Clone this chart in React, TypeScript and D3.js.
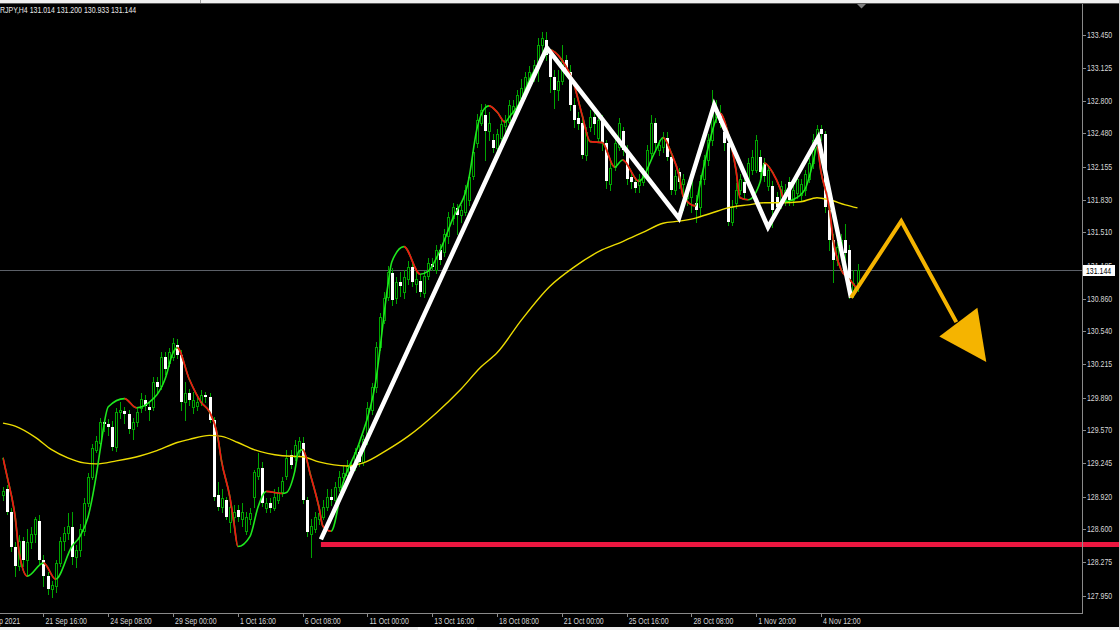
import React from 'react';
import * as d3 from 'd3';

// EURJPY H4 candles, one per 4-hour bar
const opens = [
  128.94, 128.99, 128.77, 128.43, 128.24, 128.48, 128.30, 128.47, 128.55, 128.68,
  128.30, 128.14, 128.01, 128.04, 128.27, 128.48, 128.56, 128.62, 128.33, 128.40,
  128.58, 128.86, 129.11, 129.38, 129.45, 129.65, 129.63, 129.60, 129.41, 129.75,
  129.76, 129.73, 129.58, 129.65, 129.79, 129.87, 129.80, 129.80, 130.04, 130.00,
  130.29, 130.23, 130.29, 130.41, 130.31, 129.85, 129.94, 129.80, 129.81, 129.85,
  129.92, 129.90, 129.67, 128.94, 128.82, 128.89, 128.67, 128.72, 128.79, 128.70,
  128.58, 128.70, 128.92, 129.12, 129.20, 128.81, 128.86, 128.81, 128.89, 128.96,
  129.12, 129.33, 129.31, 129.36, 129.45, 128.89, 128.55, 128.60, 128.70, 128.72,
  128.82, 128.92, 128.89, 129.01, 129.11, 129.13, 129.22, 129.21, 129.36, 129.26,
  129.48, 129.77, 129.99, 130.39, 130.65, 130.88, 131.11, 130.87, 131.02, 130.93,
  131.05, 131.17, 131.00, 131.03, 130.92, 131.08, 131.20, 131.14, 131.34, 131.32,
  131.47, 131.65, 131.75, 131.68, 131.71, 131.83, 132.06, 132.39, 132.58, 132.66,
  132.50, 132.42, 132.34, 132.44, 132.55, 132.59, 132.69, 132.73, 132.83, 132.91,
  133.01, 133.04, 133.12, 133.35, 133.40, 133.25, 133.03, 132.91, 132.99, 133.20,
  133.08, 132.76, 132.63, 132.58, 132.27, 132.54, 132.64, 132.44, 132.61, 132.39,
  131.98, 132.15, 132.35, 132.50, 132.32, 132.05, 132.00, 131.97, 132.00, 132.06,
  132.29, 132.58, 132.32, 132.35, 132.44, 132.25, 131.93, 132.10, 131.98, 131.85,
  131.86, 131.80, 131.76, 132.03, 132.22, 132.42, 132.64, 132.68, 132.49, 132.39,
  131.61, 131.80, 131.93, 132.00, 132.03, 132.12, 132.12, 132.25, 132.19, 131.96,
  131.96, 131.86, 131.80, 131.83, 132.00, 131.83, 131.90, 131.88, 131.93, 132.03,
  132.19, 132.39, 132.52, 132.47, 131.73, 131.44, 131.24, 131.31, 131.44, 131.34,
  130.92, 131.014,
];
const highs = [
  129.01, 129.03, 128.81, 128.47, 128.54, 128.52, 128.60, 128.62, 128.72, 128.74,
  128.35, 128.18, 128.09, 128.30, 128.52, 128.62, 128.76, 128.77, 128.45, 128.65,
  128.91, 129.15, 129.44, 129.51, 129.69, 129.67, 129.68, 129.66, 129.79, 129.85,
  129.80, 129.77, 129.69, 129.79, 129.94, 129.92, 129.85, 130.09, 130.09, 130.34,
  130.34, 130.38, 130.47, 130.46, 130.36, 130.04, 129.97, 129.95, 129.91, 129.96,
  129.95, 129.94, 129.70, 129.06, 128.99, 128.92, 128.92, 128.84, 128.84, 128.86,
  128.77, 128.81, 129.18, 129.35, 129.26, 128.91, 128.91, 128.99, 129.01, 129.11,
  129.38, 129.38, 129.47, 129.50, 129.50, 128.92, 128.70, 128.77, 128.82, 128.89,
  128.99, 128.99, 129.06, 129.17, 129.22, 129.28, 129.26, 129.40, 129.43, 129.52,
  129.85, 130.03, 130.44, 130.72, 130.93, 131.18, 131.16, 131.07, 131.12, 131.14,
  131.23, 131.22, 131.12, 131.09, 131.13, 131.26, 131.26, 131.39, 131.40, 131.54,
  131.71, 131.80, 131.79, 131.78, 131.97, 132.09, 132.34, 132.67, 132.77, 132.77,
  132.69, 132.47, 132.52, 132.61, 132.66, 132.81, 132.81, 132.91, 133.01, 133.08,
  133.14, 133.20, 133.42, 133.47, 133.47, 133.30, 133.10, 133.10, 133.35, 133.25,
  133.15, 132.83, 132.69, 132.63, 132.54, 132.71, 132.71, 132.67, 132.66, 132.42,
  132.22, 132.44, 132.63, 132.54, 132.37, 132.10, 132.05, 132.08, 132.14, 132.37,
  132.66, 132.63, 132.42, 132.49, 132.49, 132.30, 132.12, 132.14, 132.08, 131.98,
  132.06, 131.88, 132.07, 132.27, 132.47, 132.91, 132.81, 132.76, 132.57, 132.44,
  131.83, 131.99, 132.08, 132.06, 132.24, 132.32, 132.46, 132.32, 132.24, 132.17,
  132.01, 131.91, 132.01, 131.98, 132.05, 131.98, 132.08, 132.03, 132.12, 132.24,
  132.47, 132.56, 132.56, 132.50, 131.78, 131.49, 131.42, 131.49, 131.59, 131.39,
  131.14, 131.200,
];
const lows = [
  128.89, 128.75, 128.39, 128.14, 128.20, 128.24, 128.14, 128.42, 128.47, 128.27,
  128.04, 127.96, 127.94, 127.98, 128.24, 128.40, 128.50, 128.26, 128.23, 128.34,
  128.54, 128.83, 129.09, 129.36, 129.41, 129.56, 129.52, 129.38, 129.37, 129.69,
  129.64, 129.54, 129.48, 129.61, 129.75, 129.77, 129.67, 129.77, 129.95, 129.97,
  130.12, 130.20, 130.26, 130.28, 129.77, 129.67, 129.82, 129.74, 129.77, 129.82,
  129.85, 129.65, 128.89, 128.79, 128.77, 128.70, 128.57, 128.68, 128.68, 128.63,
  128.55, 128.65, 128.82, 129.09, 128.83, 128.77, 128.77, 128.79, 128.86, 128.93,
  129.09, 129.20, 129.28, 129.33, 128.86, 128.53, 128.33, 128.57, 128.65, 128.70,
  128.79, 128.84, 128.86, 128.97, 129.06, 129.09, 129.15, 129.18, 129.22, 129.23,
  129.44, 129.73, 129.95, 130.36, 130.62, 130.85, 130.80, 130.82, 130.89, 130.87,
  131.00, 130.98, 130.93, 130.89, 130.88, 131.05, 131.14, 131.11, 131.20, 131.28,
  131.41, 131.59, 131.49, 131.61, 131.68, 131.78, 132.03, 132.35, 132.56, 132.22,
  132.42, 132.30, 132.30, 132.37, 132.47, 132.56, 132.66, 132.69, 132.78, 132.86,
  132.95, 132.99, 132.99, 133.28, 133.20, 132.89, 132.73, 132.81, 132.96, 133.06,
  132.71, 132.54, 132.52, 132.24, 132.22, 132.50, 132.47, 132.40, 132.32, 131.95,
  131.93, 132.12, 132.32, 132.27, 131.98, 131.95, 131.91, 131.91, 131.97, 132.03,
  132.24, 132.32, 132.27, 132.30, 132.22, 131.89, 131.89, 131.95, 131.73, 131.78,
  131.71, 131.61, 131.68, 131.98, 132.17, 132.37, 132.59, 132.54, 132.32, 131.58,
  131.58, 131.75, 131.89, 131.85, 131.98, 132.08, 132.10, 132.05, 132.01, 131.93,
  131.56, 131.71, 131.75, 131.78, 131.78, 131.78, 131.85, 131.83, 131.88, 132.00,
  132.14, 132.37, 132.42, 131.71, 131.34, 131.02, 131.19, 131.26, 131.09, 130.87,
  130.88, 130.933,
];
const closes = [
  128.97, 128.77, 128.43, 128.24, 128.48, 128.30, 128.47, 128.55, 128.70, 128.30,
  128.14, 128.01, 128.05, 128.27, 128.48, 128.56, 128.63, 128.33, 128.40, 128.60,
  128.86, 129.11, 129.40, 129.46, 129.65, 129.63, 129.60, 129.41, 129.75, 129.77,
  129.73, 129.58, 129.65, 129.75, 129.88, 129.81, 129.77, 130.04, 129.99, 130.29,
  130.17, 130.34, 130.43, 130.31, 129.85, 129.94, 129.87, 129.87, 129.85, 129.92,
  129.90, 129.67, 128.92, 128.82, 128.91, 128.72, 128.82, 128.77, 128.72, 128.77,
  128.72, 128.76, 129.16, 129.20, 128.86, 128.86, 128.81, 128.92, 128.96, 129.07,
  129.30, 129.23, 129.43, 129.46, 128.89, 128.57, 128.63, 128.72, 128.76, 128.82,
  128.92, 128.89, 129.01, 129.11, 129.15, 129.22, 129.18, 129.36, 129.26, 129.48,
  129.79, 129.99, 130.39, 130.68, 130.87, 131.12, 130.85, 131.02, 130.98, 131.07,
  131.17, 131.02, 131.05, 130.93, 131.08, 131.21, 131.17, 131.34, 131.24, 131.49,
  131.66, 131.76, 131.68, 131.73, 131.93, 132.05, 132.30, 132.61, 132.71, 132.50,
  132.58, 132.34, 132.47, 132.57, 132.61, 132.76, 132.75, 132.86, 132.93, 133.03,
  133.08, 133.15, 133.35, 133.42, 133.25, 133.03, 132.91, 132.99, 133.20, 133.10,
  132.76, 132.61, 132.57, 132.27, 132.49, 132.64, 132.57, 132.61, 132.39, 132.01,
  132.14, 132.39, 132.58, 132.32, 132.03, 132.00, 131.95, 132.03, 132.10, 132.32,
  132.58, 132.39, 132.37, 132.44, 132.25, 131.93, 132.06, 132.00, 132.03, 131.93,
  132.01, 131.73, 132.01, 132.22, 132.42, 132.68, 132.71, 132.58, 132.39, 131.61,
  131.76, 131.93, 132.03, 131.90, 132.19, 132.25, 132.42, 132.10, 132.06, 132.12,
  131.73, 131.76, 131.96, 131.93, 131.83, 131.93, 132.03, 131.98, 132.08, 132.19,
  132.42, 132.52, 132.47, 131.76, 131.44, 131.24, 131.37, 131.44, 131.31, 130.92,
  131.01, 131.144,
];

// slow moving average (yellow), sampled at bar indices
const maBars = [0, 3, 8, 12, 16, 20, 23, 28, 34, 38, 43, 46, 51, 54, 58, 62, 69, 74, 78, 85, 89, 95, 100, 107, 113,
  118, 122, 128, 135, 141, 148, 153, 158, 163, 167, 171, 175, 179, 184, 188, 192, 197, 201, 204, 208, 211];
const maValues = [129.64, 129.61, 129.50, 129.38, 129.30, 129.25, 129.24, 129.27, 129.32, 129.37, 129.45, 129.48,
  129.52, 129.51, 129.45, 129.38, 129.32, 129.31, 129.26, 129.22, 129.25, 129.38, 129.51, 129.74, 129.97, 130.19,
  130.33, 130.65, 130.98, 131.17, 131.34, 131.42, 131.51, 131.60, 131.62, 131.65, 131.70, 131.75, 131.78, 131.80,
  131.80, 131.81, 131.85, 131.83, 131.78, 131.75];

// fast trend line (green when rising, red when falling)
const hmaBars = [0, 1, 3, 4, 6, 10, 13, 17, 19, 21, 23, 24, 26, 30, 33, 36, 40, 42, 43, 46, 49, 51, 53, 54, 56, 57,
  58, 61, 63, 65, 69, 70, 72, 73, 74, 76, 78, 79, 81, 84, 88, 92, 95, 96, 99, 103, 105, 108, 111, 115, 117, 119,
  120, 122, 124, 125, 128, 130, 133, 135, 138, 141, 143, 145, 148, 151, 153, 157, 161, 163, 165, 167, 168, 171,
  172, 174, 176, 177, 179, 181, 182, 184, 187, 188, 190, 192, 193, 195, 198, 200, 201, 202, 204, 205, 207, 209, 211];
const hmaValues = [129.30, 129.12, 128.72, 128.37, 128.14, 128.27, 128.11, 128.43, 128.53, 128.72, 129.12, 129.38,
  129.80, 129.88, 129.79, 129.84, 130.07, 130.33, 130.38, 130.07, 129.84, 129.75, 129.51, 129.26, 128.92, 128.67,
  128.43, 128.53, 128.82, 128.97, 128.95, 128.96, 129.16, 129.36, 129.38, 129.12, 128.82, 128.63, 128.58, 129.06,
  129.45, 130.04, 130.98, 131.22, 131.37, 131.10, 131.13, 131.34, 131.64, 132.03, 132.52, 132.73, 132.75, 132.69,
  132.59, 132.64, 132.81, 133.01, 133.20, 133.30, 133.20, 132.96, 132.66, 132.40, 132.39, 132.15, 132.22, 132.01,
  132.30, 132.44, 132.29, 132.06, 131.86, 131.77, 131.96, 132.32, 132.61, 132.68, 132.49, 132.12, 131.85, 131.83,
  132.01, 132.19, 132.10, 131.93, 131.81, 131.83, 131.93, 132.19, 132.35, 132.10, 131.76, 131.44, 131.14, 131.05,
  130.95];

const priceTicks = [133.45, 133.125, 132.8, 132.48, 132.155, 131.83, 131.51, 131.185, 130.86, 130.54, 130.215,
  129.89, 129.57, 129.245, 128.92, 128.6, 128.275, 127.95];

const timeTickBars = [-6, 10, 26, 42, 58, 74, 90, 106, 122, 138, 154, 170, 186, 202];
const timeTickLabels = ['17 Sep 2021', '21 Sep 16:00', '24 Sep 08:00', '29 Sep 00:00', '1 Oct 16:00', '6 Oct 08:00',
  '11 Oct 00:00', '13 Oct 16:00', '18 Oct 08:00', '21 Oct 00:00', '25 Oct 16:00', '28 Oct 08:00', '1 Nov 20:00',
  '4 Nov 12:00'];

// hand-drawn annotations (bar index / price)
const zigBars = [78.5, 134.3, 166.9, 175.6, 188.9, 201.3, 209.4];
const zigPrices = [128.5, 133.32, 131.65, 132.76, 131.56, 132.44, 130.87];
const arrowBars = [209.4, 221.8, 235.4];
const arrowPrices = [130.87, 131.62, 130.63];
const headBars = [231.2, 240.6, 242.8];
const headPrices = [130.49, 130.77, 130.24];
const supportFrom = 78.5;
const supportLevel = 128.45;
const lastPrice = 131.144;
const headerText = 'RJPY,H4  131.014 131.200 130.933 131.144';

const W = 1120;
const H = 630;
const plot = { left: 0, right: 1082, top: 4, bottom: 613 };
const FONT = "'Liberation Sans', Arial, sans-serif";
const CANDLE = '#00a400';

// terminal font is narrow, squeeze the sans glyphs horizontally
function Label({ x, y, fill, children }: { x: number; y: number; fill: string; children: React.ReactNode }) {
  return (
    <text transform={`translate(${x},${y}) scale(0.82,1)`} fill={fill} fontSize={8.5} fontFamily={FONT}>
      {children}
    </text>
  );
}

export default function App() {
  const x = d3.scaleLinear().domain([0, 211]).range([3, 857.5]);
  const y = d3.scaleLinear().domain([127.95, 133.45]).range([595.5, 34.5]);

  const maLine = d3.line<number>()
    .x((_, i) => x(maBars[i]))
    .y(d => y(d))
    .curve(d3.curveMonotoneX);

  const hmaLine = d3.line<number>()
    .x((_, i) => x(hmaBars[i]))
    .y(d => y(d))
    .curve(d3.curveMonotoneX);

  const hmaPath = hmaLine(hmaValues) || '';

  // x-ranges where the fast line falls get painted red
  const falling = hmaValues.slice(1)
    .map((v, i) => ({ a: hmaBars[i], b: hmaBars[i + 1], down: v < hmaValues[i] }))
    .filter(s => s.down);

  const zig = d3.line<number>().x((_, i) => x(zigBars[i])).y(d => y(d));
  const arrow = d3.line<number>().x((_, i) => x(arrowBars[i])).y(d => y(d));
  const head = headBars.map((b, i) => `${x(b)},${y(headPrices[i])}`).join(' ');

  const lastY = Math.round(y(lastPrice));

  return (
    <svg
      width={W}
      height={H}
      style={{ position: 'fixed', left: 0, top: 0, background: '#000', display: 'block' }}
    >
      <rect x={0} y={0} width={W} height={H} fill="#000" />

      <defs>
        <clipPath id="plotClip">
          <rect x={plot.left} y={plot.top} width={plot.right - plot.left} height={plot.bottom - plot.top} />
        </clipPath>
        <clipPath id="fallClip">
          {falling.map((s, i) => (
            <rect key={i} x={x(s.a)} y={0} width={x(s.b) - x(s.a)} height={H} />
          ))}
        </clipPath>
      </defs>

      <g clipPath="url(#plotClip)">
        {/* current price line */}
        <line x1={plot.left} x2={plot.right} y1={lastY + 0.5} y2={lastY + 0.5} stroke="#5c6068" strokeWidth={1} />

        {/* candles */}
        {closes.map((c, i) => {
          const o = opens[i];
          const cx = Math.round(x(i));
          const top = Math.round(y(Math.max(o, c)));
          const bot = Math.round(y(Math.min(o, c)));
          const hi = Math.round(y(Math.max(highs[i], o, c)));
          const lo = Math.round(y(Math.min(lows[i], o, c)));
          const bull = c >= o;
          return (
            <g key={i}>
              <line x1={cx + 0.5} x2={cx + 0.5} y1={hi} y2={lo + 1} stroke={CANDLE} strokeWidth={1} />
              {bull ? (
                <rect x={cx - 0.5} y={top + 0.5} width={2} height={Math.max(bot - top, 1)}
                  fill="#000" stroke={CANDLE} strokeWidth={1} />
              ) : (
                <rect x={cx - 1} y={top} width={3} height={Math.max(bot - top, 1)} fill="#ffffff" />
              )}
            </g>
          );
        })}

        {/* moving averages */}
        <path d={maLine(maValues) || ''} fill="none" stroke="#ecdc00" strokeWidth={1.4} />
        <path d={hmaPath} fill="none" stroke="#1ee81e" strokeWidth={1.6} />
        <path d={hmaPath} fill="none" stroke="#f21212" strokeWidth={1.7} clipPath="url(#fallClip)" />

        {/* zigzag pattern */}
        <path d={zig(zigPrices) || ''} fill="none" stroke="#ffffff" strokeWidth={4.5}
          strokeLinejoin="miter" strokeMiterlimit={6} />

        {/* projected move */}
        <path d={arrow(arrowPrices) || ''} fill="none" stroke="#f5b400" strokeWidth={4} strokeLinejoin="miter" />
        <polygon points={head} fill="#f5b400" />
      </g>

      {/* support line */}
      <line x1={x(supportFrom)} x2={W} y1={y(supportLevel)} y2={y(supportLevel)} stroke="#ec1740" strokeWidth={5} />

      {/* axes */}
      <line x1={plot.right + 0.5} x2={plot.right + 0.5} y1={plot.top} y2={plot.bottom + 1} stroke="#8a8a8a" />
      <line x1={plot.left} x2={plot.right + 1} y1={plot.bottom + 0.5} y2={plot.bottom + 0.5} stroke="#8a8a8a" />

      {priceTicks.map(v => (
        <g key={v}>
          <line x1={plot.right + 1} x2={plot.right + 4} y1={Math.round(y(v)) + 0.5} y2={Math.round(y(v)) + 0.5}
            stroke="#8a8a8a" />
          <Label x={plot.right + 5} y={y(v) + 3} fill="#d8d8d8">{v.toFixed(3)}</Label>
        </g>
      ))}

      <rect x={plot.right + 1} y={lastY - 5} width={32} height={11} fill="#ffffff" />
      <Label x={plot.right + 4} y={lastY + 3.5} fill="#000">{lastPrice.toFixed(3)}</Label>

      {timeTickBars.map((b, i) => (
        <g key={b}>
          <line x1={Math.round(x(b)) + 0.5} x2={Math.round(x(b)) + 0.5} y1={plot.bottom} y2={plot.bottom + 4}
            stroke="#8a8a8a" />
          <Label x={x(b) + 2} y={624} fill="#d8d8d8">{timeTickLabels[i]}</Label>
        </g>
      ))}

      {/* window chrome */}
      <rect x={0} y={0} width={W} height={3} fill="#f0f0f0" />
      <line x1={200.5} x2={200.5} y1={0} y2={3} stroke="#a0a0a0" />
      <line x1={0} x2={W} y1={3.5} y2={3.5} stroke="#5a5a5a" />
      <polygon points="857,4 866,4 861.5,8.5" fill="#808080" />
      <rect x={0} y={627} width={W} height={3} fill="#eeeeee" />
      <rect x={418} y={627} width={59} height={3} fill="#ffffff" />
      <line x1={W - 0.5} x2={W - 0.5} y1={0} y2={H} stroke="#c8c8c8" />

      <Label x={0} y={13} fill="#e8e8e8">{headerText}</Label>
    </svg>
  );
}
